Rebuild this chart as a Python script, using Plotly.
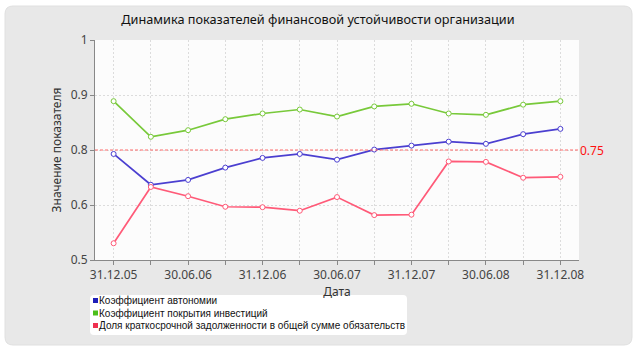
import plotly.graph_objects as go

dates = ["31.12.05", "31.03.06", "30.06.06", "30.09.06", "31.12.06", "31.03.07", "30.06.07",
         "30.09.07", "31.12.07", "31.03.08", "30.06.08", "30.09.08", "31.12.08"]
tick_labels = ["31.12.05", "", "30.06.06", "", "31.12.06", "", "30.06.07",
               "", "31.12.07", "", "30.06.08", "", "31.12.08"]

autonomy = [0.741, 0.671, 0.682, 0.710, 0.732, 0.741, 0.728, 0.751, 0.760, 0.769, 0.764, 0.786, 0.798]
investment = [0.861, 0.780, 0.795, 0.820, 0.833, 0.842, 0.826, 0.849, 0.855, 0.833, 0.830, 0.853, 0.861]
short_debt = [0.538, 0.666, 0.645, 0.621, 0.620, 0.612, 0.643, 0.602, 0.603, 0.724, 0.723, 0.687, 0.689]

names = ["Коэффициент автономии", "Коэффициент покрытия инвестиций",
         "Доля краткосрочной задолженности в общей сумме обязательств"]
line_colors = ["#4b3fd0", "#78c93a", "#ff5a78"]
legend_colors = ["#1f1fb8", "#4cbf1a", "#f0304f"]

y_tickvals = [0.5, 0.625, 0.75, 0.875, 1.0]
y_ticktext = ["0.5", "0.6", "0.8", "0.9", "1"]
threshold = 0.75
threshold_label = "0.75"

FONT = "Noto Sans"
LFONT = "Liberation Sans"

# plot area geometry in pixels
L, R, T, B = 95, 61, 40, 95
W, H = 640, 355
PW, PH = W - L - R, H - T - B


def px(x):
    return (x - L) / PW


def py(y):
    return (H - B - y) / PH


def rounded(x0, y0, x1, y1, r):
    return (f"M {px(x0 + r)},{py(y0)} L {px(x1 - r)},{py(y0)} "
            f"Q {px(x1)},{py(y0)} {px(x1)},{py(y0 + r)} L {px(x1)},{py(y1 - r)} "
            f"Q {px(x1)},{py(y1)} {px(x1 - r)},{py(y1)} L {px(x0 + r)},{py(y1)} "
            f"Q {px(x0)},{py(y1)} {px(x0)},{py(y1 - r)} L {px(x0)},{py(y0 + r)} "
            f"Q {px(x0)},{py(y0)} {px(x0 + r)},{py(y0)} Z")


fig = go.Figure()

for vals, name, lc in zip([autonomy, investment, short_debt], names, line_colors):
    fig.add_trace(go.Scatter(
        x=dates, y=vals, mode="lines+markers", name=name, showlegend=False,
        line=dict(color=lc, width=1.7),
        marker=dict(symbol="circle", size=5, color="white", line=dict(color=lc, width=1)),
    ))

# background panel
fig.add_shape(type="path", path=rounded(5, 6, 632, 345, 8), xref="paper", yref="paper",
              layer="below", fillcolor="#e8e8e8", line=dict(color="#e0e0e0", width=1))
# plot area fill
fig.add_shape(type="rect", xref="paper", yref="paper", x0=0, x1=1, y0=0, y1=1,
              layer="below", fillcolor="#fcfcfc", line=dict(width=0))

# threshold line
fig.add_shape(type="line", xref="paper", yref="y", x0=0, x1=1, y0=threshold, y1=threshold,
              line=dict(color="#ff6a6a", width=1, dash="3px,2px"))
fig.add_annotation(xref="paper", yref="y", x=1.0, y=threshold, text=threshold_label,
                   showarrow=False, xanchor="left", xshift=-1,
                   font=dict(family=FONT, size=12, color="#ff1010"))

# legend (manual, compact)
fig.add_shape(type="path", path=rounded(90, 295, 407, 335, 4), xref="paper", yref="paper",
              fillcolor="white", line=dict(width=0))
row_y = [300.5, 313.0, 325.5]
for name, c, yy in zip(names, legend_colors, row_y):
    fig.add_shape(type="rect", xref="paper", yref="paper",
                  x0=px(93), x1=px(98), y0=py(yy - 2.5), y1=py(yy + 2.5),
                  fillcolor=c, line=dict(width=0))
    fig.add_annotation(xref="paper", yref="paper", x=px(98), y=py(yy), text=name,
                       showarrow=False, xanchor="left", yanchor="middle", borderpad=0,
                       font=dict(family=LFONT, size=10, color="#111"))

fig.update_layout(
    width=W, height=H,
    margin=dict(l=L, r=R, t=T, b=B),
    paper_bgcolor="white",
    plot_bgcolor="#fcfcfc",
    font=dict(family=FONT, size=12, color="#333"),
    title=dict(text="Динамика показателей финансовой устойчивости организации",
               x=318 / W, xref="container", xanchor="center", y=1 - 20 / H, yanchor="middle",
               font=dict(family=FONT, size=12.7, color="#111")),
    showlegend=False,
)

fig.update_xaxes(
    type="category", categoryorder="array", categoryarray=dates,
    range=[-0.5, len(dates) - 0.5],
    tickvals=dates, ticktext=tick_labels,
    showgrid=True, gridcolor="#dcdcdc", griddash="2px,2px", gridwidth=1,
    showline=True, linecolor="#888", linewidth=1,
    ticks="outside", ticklen=4, tickcolor="#888",
    tickfont=dict(family=FONT, size=12, color="#444"),
    title=dict(text="Дата", font=dict(family=FONT, size=12, color="#333"), standoff=2),
    zeroline=False,
)
fig.update_yaxes(
    range=[0.5, 1.0], tickvals=y_tickvals, ticktext=y_ticktext,
    showgrid=True, gridcolor="#dcdcdc", griddash="2px,2px", gridwidth=1,
    showline=True, linecolor="#888", linewidth=1,
    ticks="outside", ticklen=4, tickcolor="#888",
    tickfont=dict(family=FONT, size=12, color="#444"),
    title=dict(text="Значение показателя", font=dict(family=FONT, size=12, color="#333"), standoff=6),
    zeroline=False,
)

fig.write_html("out.html", config={"displayModeBar": False},
               post_script="document.body.style.margin='0px';")
